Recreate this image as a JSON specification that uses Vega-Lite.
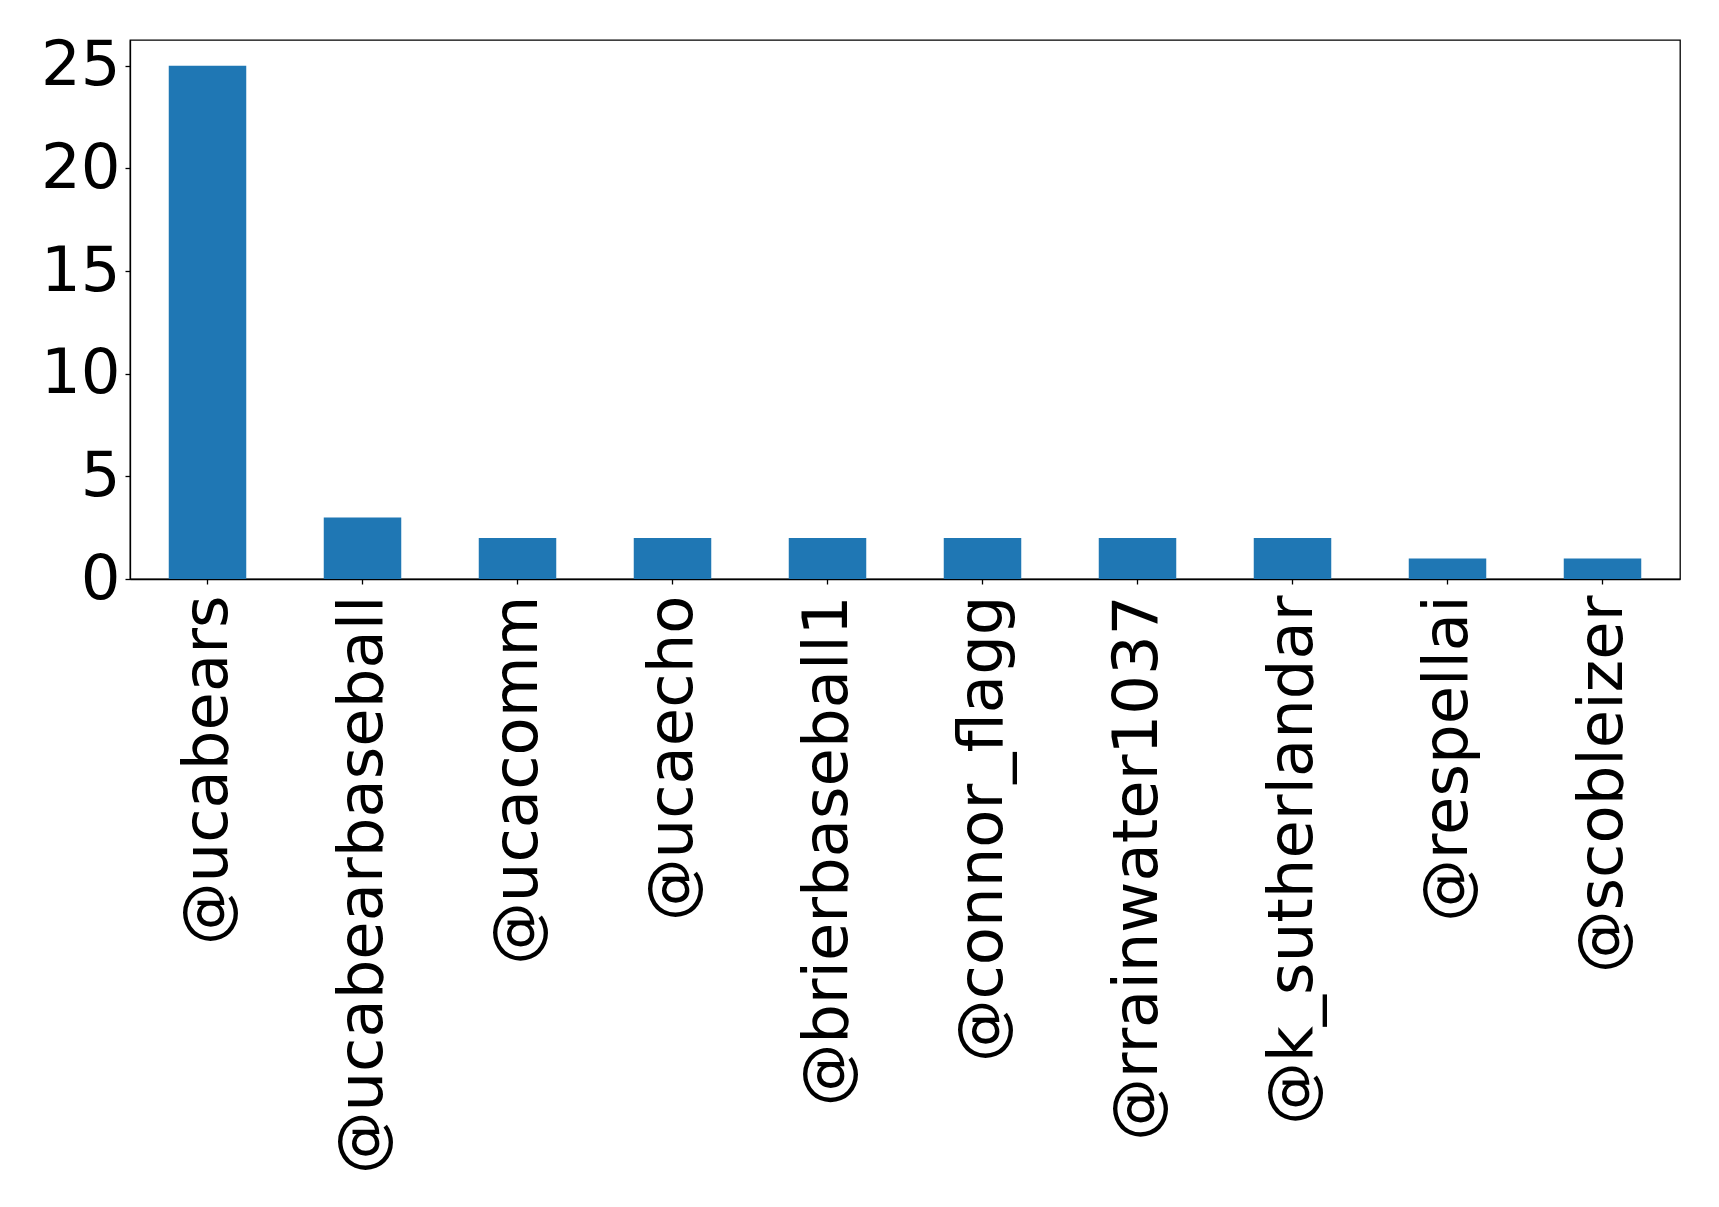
{
  "$schema": "https://vega.github.io/schema/vega-lite/v6.json",
  "autosize": {"type": "none"},
  "padding": {"left": 130, "top": 40, "right": 39, "bottom": 628},
  "width": 1550,
  "height": 539,
  "background": "white",
  "data": {
    "values": [
      {"user": "@ucabears", "count": 25},
      {"user": "@ucabearbaseball", "count": 3},
      {"user": "@ucacomm", "count": 2},
      {"user": "@ucaecho", "count": 2},
      {"user": "@brierbaseball1", "count": 2},
      {"user": "@connor_flagg", "count": 2},
      {"user": "@rrainwater1037", "count": 2},
      {"user": "@k_sutherlandar", "count": 2},
      {"user": "@respellai", "count": 1},
      {"user": "@scobleizer", "count": 1}
    ]
  },
  "config": {
    "view": {"stroke": "black", "strokeWidth": 1.3},
    "axis": {
      "grid": false,
      "domainColor": "black",
      "domainWidth": 1.3,
      "tickColor": "black",
      "tickWidth": 1.3,
      "tickSize": 5,
      "labelFont": "DejaVu Sans",
      "labelFontSize": 62.5,
      "labelColor": "black",
      "labelOverlap": false,
      "title": null
    }
  },
  "mark": {"type": "bar", "color": "#1f77b4"},
  "encoding": {
    "x": {
      "field": "user",
      "type": "nominal",
      "sort": null,
      "scale": {"paddingInner": 0.5, "paddingOuter": 0.25},
      "axis": {
        "labelAngle": -90,
        "labelAlign": "right",
        "labelBaseline": "middle",
        "labelPadding": 11,
        "labelLimit": 0
      }
    },
    "y": {
      "field": "count",
      "type": "quantitative",
      "scale": {"domain": [0, 26.25], "nice": false, "zero": true},
      "axis": {
        "values": [0, 5, 10, 15, 20, 25],
        "labelPadding": 5
      }
    }
  }
}
